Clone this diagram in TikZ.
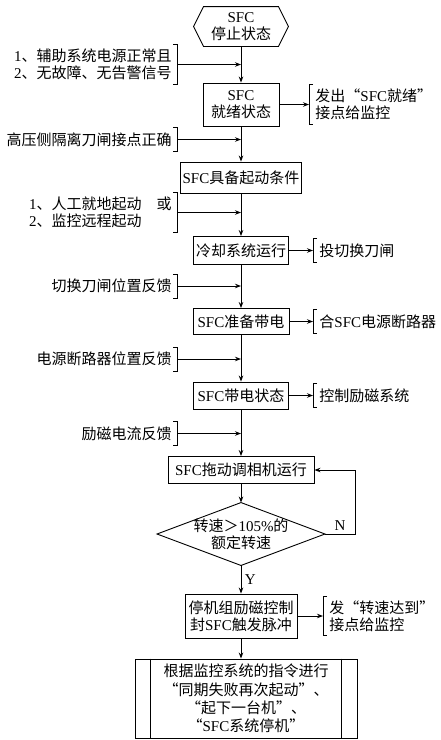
\documentclass[tikz,border=0pt]{standalone}
\usepackage{fontspec}
\setmainfont{Liberation Serif}
\newfontfamily\cjk{Noto Sans CJK SC}
\newcommand\en[1]{{\rmfamily #1}}
\usetikzlibrary{arrows.meta}

\begin{document}
\begin{tikzpicture}[x=1pt, y=-1pt, line width=0.9pt,
  >={Stealth[length=6pt,width=4.5pt]},
  every node/.style={font=\cjk\fontsize{15}{17}\selectfont},
  box/.style={draw, align=center, inner xsep=2pt, inner ysep=3pt, minimum height=27pt},
  input/.style={align=right, anchor=east, inner xsep=5pt, inner ysep=4pt, minimum height=23pt},
  output/.style={align=left, anchor=west, inner xsep=6pt, inner ysep=4pt, minimum height=23pt}]
  \useasboundingbox (0,0) rectangle (441,740);

  % Main flow
  \node[box, draw=none, minimum width=94pt, minimum height=39pt] (stop) at (241,26.5) {\en{SFC}\\停止状态};
  \draw (stop.west) -- ([xshift=10pt]stop.north west) -- ([xshift=-10pt]stop.north east)
    -- (stop.east) -- ([xshift=-10pt]stop.south east) -- ([xshift=10pt]stop.south west) -- cycle;
  \node[box, minimum width=76pt, minimum height=43pt] (ready) at (241,104.5) {\en{SFC}\\就绪状态};
  \node[box, minimum width=121pt, minimum height=31pt] (cond) at (241,177.5) {\en{SFC}具备起动条件};
  \node[box, minimum width=95pt, minimum height=28pt] (cool) at (241,250.5) {冷却系统运行};
  \node[box, minimum width=96pt, minimum height=26pt] (prep) at (241,321.5) {\en{SFC}准备带电};
  \node[box, minimum width=95pt, minimum height=27pt] (live) at (241,395.5) {\en{SFC}带电状态};
  \node[box, minimum width=146pt, minimum height=27pt] (drive) at (241,470) {\en{SFC}拖动调相机运行};

  % Speed check
  \node[align=center, inner sep=0pt, minimum width=167pt, minimum height=62pt] (dec) at (241,534) {转速＞\en{105\%}的\\额定转速};
  \draw (dec.north) -- (dec.east) -- (dec.south) -- (dec.west) -- cycle;

  \node[box, minimum width=112pt, minimum height=44pt] (halt) at (241,616) {停机组励磁控制\\封\en{SFC}触发脉冲};
  \node[box, minimum width=222pt, minimum height=79pt, font=\cjk\fontsize{15}{18.3}\selectfont] (final) at (246,698.5)
    {根据监控系统的指令进行\\“同期失败再次起动”、\\“起下一台机”、\\“\en{SFC}系统停机”};
  \draw ([xshift=16pt]final.north west) -- ([xshift=16pt]final.south west);
  \draw ([xshift=-16pt]final.north east) -- ([xshift=-16pt]final.south east);

  % Arrows down the middle
  \foreach \a/\b in {stop/ready, ready/cond, cond/cool, cool/prep, prep/live, live/drive, drive/dec}
    \draw[->] (\a) -- (\b);
  \draw[->] (dec) -- node[right] (yes) {\en{Y}} (halt);
  \draw[->] (halt.south) -- (halt.south |- final.north);
  \draw[->] (dec.east) -- node[above] (no) {\en{N}} ++(30,0) |- (drive.east);

  % Inputs on the left
  \node[input] (aux) at (177,64.5) {\en{1}、辅助系统电源正常且\\\en{2}、无故障、无告警信号};
  \node[input] (iso) at (177,139.5) {高压侧隔离刀闸接点正确};
  \node[input, align=left] (mode) at (177,212.5) {\en{1}、人工就地起动\quad 或\\\en{2}、监控远程起动};
  \node[input] (swfb) at (177,286) {切换刀闸位置反馈};
  \node[input] (cbfb) at (177,359) {电源断路器位置反馈};
  \node[input] (exfb) at (177,433.5) {励磁电流反馈};
  \foreach \n in {aux, iso, mode, swfb, cbfb, exfb} {
    \draw ([xshift=-4pt]\n.north east) -- (\n.north east) -- (\n.south east) -- ([xshift=-4pt]\n.south east);
    \draw[->] (\n.east) -- (\n.east -| stop.south);
  }

  % Outputs on the right
  \node[output] (rdy) at (309,104.5) {发出“\en{SFC}就绪”\\接点给监控};
  \node[output] (knife) at (313,250.5) {投切换刀闸};
  \node[output] (brk) at (313,321.5) {合\en{SFC}电源断路器};
  \node[output] (exc) at (313,395.5) {控制励磁系统};
  \node[output] (spd) at (323,616) {发“转速达到”\\接点给监控};
  \foreach \b/\n in {ready/rdy, cool/knife, prep/brk, live/exc, halt/spd} {
    \draw ([xshift=4pt]\n.north west) -- (\n.north west) -- (\n.south west) -- ([xshift=4pt]\n.south west);
    \draw[->] (\b.east) -- (\n.west);
  }
\end{tikzpicture}
\end{document}
